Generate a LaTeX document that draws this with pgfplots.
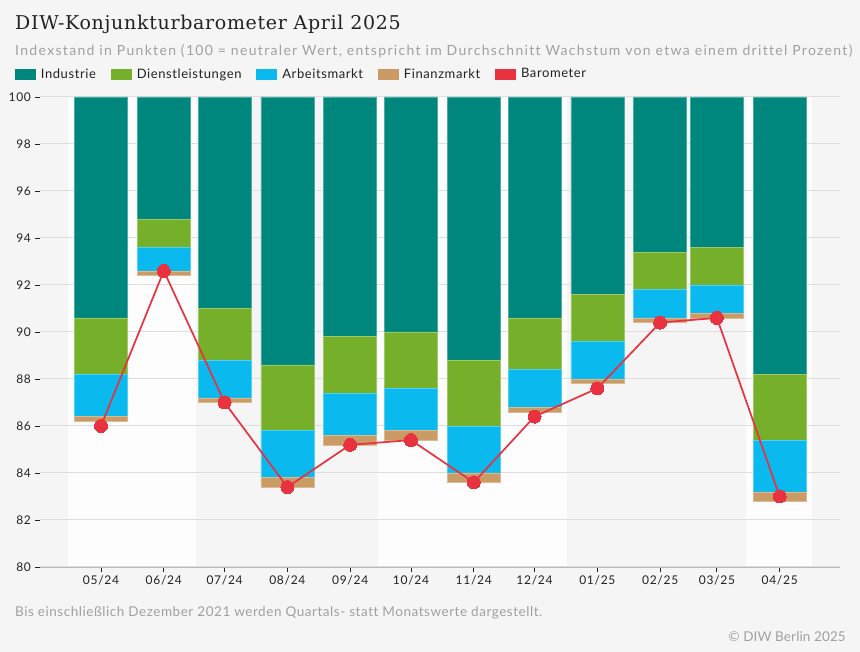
\documentclass[border=0pt]{standalone}
\usepackage{fontspec}
\setmainfont{Lato}
\newfontfamily\titlefont[LetterSpace=3.6, Ligatures=NoCommon]{DejaVu Serif}
\newfontfamily\subfont[LetterSpace=9.45, Ligatures=NoCommon]{Lato}
\newfontfamily\legfont[LetterSpace=4.5, Ligatures=NoCommon]{Lato}
\newfontfamily\tickfont[LetterSpace=6]{Lato}
\newfontfamily\footfont[LetterSpace=4.0, Ligatures=NoCommon]{Lato}
\newfontfamily\copyfont[LetterSpace=1]{Lato}
\usepackage{pgfplots}
\usepackage{pgfplotstable}
\pgfplotsset{compat=1.18}
\definecolor{bg}{HTML}{F5F5F5}
\definecolor{band}{HTML}{FDFDFD}
\definecolor{ind}{HTML}{00877D}
\definecolor{dien}{HTML}{76B02B}
\definecolor{arb}{HTML}{0ABAEE}
\definecolor{fin}{HTML}{CB9B66}
\definecolor{baro}{HTML}{E8323F}
\definecolor{gridc}{HTML}{DEDEDE}
\definecolor{txt}{HTML}{222222}
\definecolor{sub}{HTML}{A0A0A0}

\pgfplotstableread{
x base fin arb dien ind baro
0   86.2 0.2 1.8 2.4 9.4 86.0
31  92.4 0.2 1.0 1.2 5.2 92.6
61  87.0 0.2 1.6 2.2 9.0 87.0
92  83.4 0.4 2.0 2.8 11.4 83.4
123 85.2 0.4 1.8 2.4 10.2 85.2
153 85.4 0.4 1.8 2.4 10.0 85.4
184 83.6 0.4 2.0 2.8 11.2 83.6
214 86.6 0.2 1.6 2.2 9.4 86.4
245 87.8 0.2 1.6 2.0 8.4 87.6
276 90.4 0.2 1.2 1.6 6.6 90.4
304 90.6 0.2 1.2 1.6 6.4 90.6
335 82.8 0.4 2.2 2.8 11.8 83.0
}\data

\pgfplotsset{
  myaxis/.style={scale only axis, width=800pt, height=470pt,
    at={(40pt,85pt)}, anchor=south west,
    xmin=-30.11, xmax=364.76, ymin=80, ymax=100},
  sq/.style={legend image code/.code={\fill[#1] (0pt,-5.25pt) rectangle (20pt,5.25pt);}},
}

\begin{document}
\begin{tikzpicture}
\fill[bg] (0,0) rectangle (860pt,652pt);

\begin{axis}[myaxis, hide axis]
\fill[band] (axis cs:-16.29,80) rectangle (axis cs:47.04,100);
\fill[band] (axis cs:136.7,80) rectangle (axis cs:230.0,100);
\fill[band] (axis cs:318.36,80) rectangle (axis cs:350.94,100);
\end{axis}

\begin{axis}[myaxis,
  ybar stacked, bar width=26.16,
  axis x line=bottom, axis y line=left,
  x axis line style={draw=gridc!80!black!90, -},
  y axis line style={draw=none},
  tick align=outside, major tick length=5.5pt,
  tick style={draw=txt, line width=0.9pt},
  ytick={80,82,...,100},
  ymajorgrids, major grid style={draw=gridc, line width=1pt},
  xtick={0,31,61,92,123,153,184,214,245,276,304,335},
  xticklabels={05/24,06/24,07/24,08/24,09/24,10/24,11/24,12/24,01/25,02/25,03/25,04/25},
  ticklabel style={font=\tickfont\fontsize{12}{14}\selectfont, text=txt},
  /pgf/number format/assume math mode=true,
]
\addplot[draw=none, fill=none] table[x=x, y=base] {\data};
\addplot[fill=fin, draw=fin!70!white, line width=0.5pt] table[x=x, y=fin] {\data};
\addplot[fill=arb, draw=arb!70!white, line width=0.5pt] table[x=x, y=arb] {\data};
\addplot[fill=dien, draw=dien!70!white, line width=0.5pt] table[x=x, y=dien] {\data};
\addplot[fill=ind, draw=ind!70!white, line width=0.5pt] table[x=x, y=ind] {\data};
\end{axis}

\begin{axis}[myaxis, hide axis,
  legend columns=5,
  legend style={draw=none, fill=none, inner sep=0pt, outer sep=0pt,
    at={(axis description cs:-0.03125,1.0489)}, anchor=west,
    font=\legfont\fontsize{13}{15}\selectfont, text=txt,
    nodes={inner sep=0pt},
    /tikz/every odd column/.style={column sep=5.5pt},
    /tikz/every even column/.style={column sep=15pt}},
  legend cell align=left,
]
\addlegendimage{sq=ind}\addlegendentry{Industrie}
\addlegendimage{sq=dien}\addlegendentry{Dienstleistungen}
\addlegendimage{sq=arb}\addlegendentry{Arbeitsmarkt}
\addlegendimage{sq=fin}\addlegendentry{Finanzmarkt}
\addlegendimage{sq=baro}\addlegendentry{Barometer}
\addplot[forget plot, baro, line width=1.7pt, mark=*, mark size=6.5pt,
  mark options={fill=baro, draw=baro, line width=0pt}] table[x=x, y=baro] {\data};
\end{axis}

\node[anchor=base west, inner sep=0pt, text=txt] at (15pt,622pt)
  {\titlefont\fontsize{19}{22}\selectfont DIW-Konjunkturbarometer April 2025};
\node[anchor=base west, inner sep=0pt, text=sub] at (15pt,596pt)
  {\subfont\fontsize{14}{16}\selectfont Indexstand in Punkten (100 = neutraler Wert, entspricht im Durchschnitt Wachstum von etwa einem drittel Prozent)};
\node[anchor=base west, inner sep=0pt, text=sub] at (15pt,35pt)
  {\footfont\fontsize{13.5}{15}\selectfont Bis einschließlich Dezember 2021 werden Quartals- statt Monatswerte dargestellt.};
\node[anchor=base east, inner sep=0pt, text=sub] at (846pt,10.5pt)
  {\copyfont\fontsize{13.5}{15}\selectfont © DIW Berlin 2025};
\pgfresetboundingbox
\path[use as bounding box] (0,0) rectangle (860pt,652pt);
\end{tikzpicture}
\end{document}
